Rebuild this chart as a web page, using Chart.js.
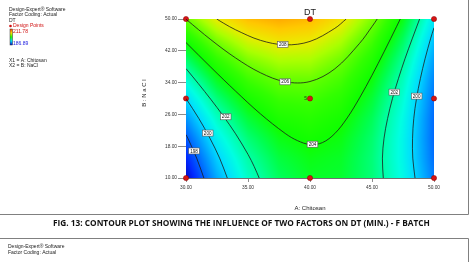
<!DOCTYPE html>
<html lang="en">
<head>
  <meta charset="UTF-8">
  <title>DT contour - F batch</title>
  <script src="https://cdn.jsdelivr.net/npm/chart.js"></script>
  <style>
    body { margin: 0; background: #ffffff; }
    #wrap { width: 471px; height: 262px; }
  </style>
</head>
<body>
  <div id="wrap"><canvas id="dtChart" width="471" height="262"></canvas></div>

  <script>
    // Factor levels (actual units) of the response grid
    var chitosan = [30, 32.5, 35, 37.5, 40, 42.5, 45, 47.5, 50];
    var nacl = [10, 15, 20, 25, 30, 35, 40, 45, 50];

    // DT, one row per NaCl level, one column per Chitosan level
    var dtGrid = [
      [196.19, 199.18, 201.40, 202.84, 203.50, 203.40, 202.51, 200.85, 198.42],
      [196.93, 199.80, 201.89, 203.21, 203.75, 203.52, 202.51, 200.73, 198.17],
      [197.81, 200.56, 202.52, 203.72, 204.14, 203.78, 202.65, 200.74, 198.06],
      [198.83, 201.45, 203.30, 204.37, 204.66, 204.18, 202.92, 200.89, 198.09],
      [199.99, 202.49, 204.21, 205.15, 205.32, 204.72, 203.34, 201.18, 198.26],
      [201.29, 203.66, 205.26, 206.08, 206.12, 205.40, 203.89, 201.61, 198.56],
      [202.73, 204.97, 206.45, 207.14, 207.07, 206.21, 204.59, 202.18, 199.01],
      [204.30, 206.43, 207.77, 208.35, 208.15, 207.17, 205.42, 202.89, 199.59],
      [206.02, 208.02, 209.24, 209.69, 209.36, 208.26, 206.39, 203.74, 200.31]
    ];

    // contour lines, [chitosan, nacl] pairs
    var c198 = [[31.44, 10], [30.86, 15], [30.15, 20], [30, 20.9]];
    var c200a = [[33.33, 10], [32.71, 15], [31.93, 20], [31.03, 25], [30, 30]];
    var c200b = [[48.47, 10], [48.29, 15], [48.27, 20], [48.37, 25], [48.59, 30], [48.90, 35], [49.28, 40], [49.72, 45], [50, 47.8]];
    var c202a = [[30, 37.53], [31, 33.73], [32, 29.78], [33, 25.63], [34, 21.12], [35, 15.94], [35.5, 12.88], [35.9, 10]];
    var c202b = [[45.91, 10], [45.84, 15], [45.97, 20], [46.26, 25], [46.65, 30], [47.13, 35], [47.66, 40], [48.24, 45], [48.84, 50]];
    var c204 = [[30, 44.07], [32, 37.87], [34, 31.85], [36, 26.14], [38, 21.21], [39, 19.39], [40, 18.43], [41, 18.9], [42, 21.18], [43, 25.11], [44, 30.16], [45, 35.84], [46, 41.91], [47, 48.2], [47.28, 50]];
    var c206 = [[30, 49.95], [32, 44.8], [34, 40.2], [36, 36.48], [38, 34.22], [40, 34.27], [42, 37.46], [44, 43.88], [45, 48.09], [45.42, 50]];
    var c208 = [[32.48, 50], [33, 49.0], [34, 47.28], [36, 44.64], [38, 43.5], [40, 44.36], [42, 47.65], [42.92, 50]];

    // contour labels
    var labelText = ['198', '200', '200', '202', '202', '204', '206', '208'];
    var labelA = [30.65, 31.75, 48.6, 33.2, 46.8, 40.2, 38, 37.8];
    var labelB = [16.8, 21.3, 30.6, 25.4, 31.6, 18.5, 34.2, 43.6];

    // design points
    var designA = [30, 30, 30, 40, 40, 40, 50, 50, 50];
    var designB = [10, 30, 50, 10, 30, 50, 10, 30, 50];

    var xTicks = [30, 35, 40, 45, 50];
    var yTicks = [10, 18, 26, 34, 42, 50];

    // colour ramp (DT value -> rgb)
    var rampVal = [196.2, 197, 198, 199, 200, 201, 202, 203, 204, 205, 206, 207, 208, 209, 209.7];
    var rampRGB = [[0, 10, 200], [0, 40, 255], [0, 100, 255], [0, 160, 255], [0, 220, 255], [0, 255, 225],
                   [0, 255, 160], [0, 255, 80], [15, 255, 0], [50, 255, 0], [100, 255, 0], [170, 255, 0],
                   [235, 235, 0], [255, 200, 0], [255, 170, 0]];

    var FONT = '"Liberation Sans", Arial, sans-serif';

    function pairs(arr) {
      return arr.map(function (p) { return { x: p[0], y: p[1] }; });
    }

    function locate(axis, v) {
      var i = 0;
      while (i < axis.length - 2 && v > axis[i + 1]) i++;
      var t = (v - axis[i]) / (axis[i + 1] - axis[i]);
      return [i, Math.max(0, Math.min(1, t))];
    }

    function dtAt(a, b) {
      var ia = locate(chitosan, a), ib = locate(nacl, b);
      var i = ia[0], u = ia[1], j = ib[0], w = ib[1];
      var v00 = dtGrid[j][i], v10 = dtGrid[j][i + 1];
      var v01 = dtGrid[j + 1][i], v11 = dtGrid[j + 1][i + 1];
      return (v00 * (1 - u) + v10 * u) * (1 - w) + (v01 * (1 - u) + v11 * u) * w;
    }

    function colourFor(v) {
      if (v <= rampVal[0]) return rampRGB[0];
      var n = rampVal.length;
      if (v >= rampVal[n - 1]) return rampRGB[n - 1];
      var k = 0;
      while (v > rampVal[k + 1]) k++;
      var t = (v - rampVal[k]) / (rampVal[k + 1] - rampVal[k]);
      var c0 = rampRGB[k], c1 = rampRGB[k + 1];
      return [c0[0] + (c1[0] - c0[0]) * t, c0[1] + (c1[1] - c0[1]) * t, c0[2] + (c1[2] - c0[2]) * t];
    }

    // colour field behind the contour lines
    var fieldPlugin = {
      id: 'field',
      beforeDatasetsDraw: function (chart) {
        var area = chart.chartArea, xs = chart.scales.x, ys = chart.scales.y;
        var w = Math.round(area.right - area.left), h = Math.round(area.bottom - area.top);
        var off = document.createElement('canvas');
        off.width = w; off.height = h;
        var octx = off.getContext('2d');
        var img = octx.createImageData(w, h);
        for (var py = 0; py < h; py++) {
          var b = ys.getValueForPixel(area.top + py + 0.5);
          for (var px = 0; px < w; px++) {
            var a = xs.getValueForPixel(area.left + px + 0.5);
            var c = colourFor(dtAt(a, b));
            var k = (py * w + px) * 4;
            img.data[k] = c[0]; img.data[k + 1] = c[1]; img.data[k + 2] = c[2]; img.data[k + 3] = 255;
          }
        }
        octx.putImageData(img, 0, 0);
        chart.ctx.drawImage(off, area.left, area.top);
      },
      afterDatasetsDraw: function (chart) {
        var ctx = chart.ctx, xs = chart.scales.x, ys = chart.scales.y;
        ctx.save();
        ctx.font = '4.6px ' + FONT;
        ctx.textAlign = 'center';
        ctx.textBaseline = 'middle';
        for (var i = 0; i < labelText.length; i++) {
          var px = xs.getPixelForValue(labelA[i]), py = ys.getPixelForValue(labelB[i]);
          var tw = ctx.measureText(labelText[i]).width + 3;
          ctx.fillStyle = '#ffffff';
          ctx.fillRect(px - tw / 2, py - 3, tw, 6);
          ctx.strokeStyle = '#555555';
          ctx.lineWidth = 0.6;
          ctx.strokeRect(px - tw / 2, py - 3, tw, 6);
          ctx.fillStyle = '#111111';
          ctx.fillText(labelText[i], px, py + 0.3);
        }
        // replicate count at centre point
        ctx.font = '5px ' + FONT;
        ctx.textAlign = 'right';
        ctx.fillStyle = '#1a3a1a';
        ctx.fillText('5', xs.getPixelForValue(40) - 3, ys.getPixelForValue(30));
        ctx.restore();
      }
    };

    // page text, titles, frame and caption
    var textPlugin = {
      id: 'pageText',
      afterDraw: function (chart) {
        var ctx = chart.ctx, area = chart.chartArea;
        ctx.save();
        ctx.textBaseline = 'middle';
        ctx.textAlign = 'left';

        // info block
        ctx.font = '5px ' + FONT;
        ctx.fillStyle = '#222222';
        ctx.fillText('Design-Expert\u00ae Software', 9, 10);
        ctx.fillText('Factor Coding: Actual', 9, 15);
        ctx.fillText('DT', 9, 20.5);
        ctx.fillStyle = '#d01010';
        ctx.beginPath(); ctx.arc(10.5, 26, 1.3, 0, Math.PI * 2); ctx.fill();
        ctx.fillText('Design Points', 13, 26);
        ctx.fillText('211.78', 13, 32);
        ctx.fillStyle = '#2020e0';
        ctx.fillText('186.89', 13, 43.5);
        var g = ctx.createLinearGradient(0, 29, 0, 45);
        g.addColorStop(0, '#ff4000'); g.addColorStop(0.25, '#ffe000'); g.addColorStop(0.5, '#20ff00');
        g.addColorStop(0.75, '#00e0ff'); g.addColorStop(1, '#0010d0');
        ctx.fillStyle = g;
        ctx.fillRect(10, 29, 2.5, 16);
        ctx.strokeStyle = '#333333'; ctx.lineWidth = 0.5;
        ctx.strokeRect(10, 29, 2.5, 16);
        ctx.fillStyle = '#222222';
        ctx.fillText('X1 = A: Chitosan', 9, 61);
        ctx.fillText('X2 = B: NaCl', 9, 66);

        // chart title
        ctx.textAlign = 'center';
        ctx.font = '9px ' + FONT;
        ctx.fillStyle = '#222222';
        ctx.fillText('DT', (area.left + area.right) / 2, 13);

        // axis titles
        ctx.font = '6px ' + FONT;
        ctx.fillText('A: Chitosan', (area.left + area.right) / 2, 208);
        ctx.save();
        ctx.translate(144, 93);
        ctx.rotate(-Math.PI / 2);
        ctx.fillText('B : N a C l', 0, 0);
        ctx.restore();

        // figure frame
        ctx.strokeStyle = '#808080'; ctx.lineWidth = 1;
        ctx.beginPath();
        ctx.moveTo(0, 214.5); ctx.lineTo(468.5, 214.5); ctx.lineTo(468.5, 0);
        ctx.moveTo(0, 238.5); ctx.lineTo(468.5, 238.5); ctx.lineTo(468.5, 262);
        ctx.stroke();

        // caption
        var cap = 'FIG. 13: CONTOUR PLOT SHOWING THE INFLUENCE OF TWO FACTORS ON DT (MIN.) - F BATCH';
        var size = 8;
        ctx.font = 'bold ' + size + 'px "Open Sans", sans-serif';
        size = size * 377 / ctx.measureText(cap).width;
        ctx.font = 'bold ' + size.toFixed(2) + 'px "Open Sans", sans-serif';
        ctx.fillStyle = '#111111';
        ctx.fillText(cap, 241.5, 224);

        // start of next figure
        ctx.textAlign = 'left';
        ctx.font = '5px ' + FONT;
        ctx.fillStyle = '#222222';
        ctx.fillText('Design-Expert\u00ae Software', 8, 247);
        ctx.fillText('Factor Coding: Actual', 8, 252.5);
        ctx.restore();
      }
    };

    function contourSet(arr) {
      return {
        data: pairs(arr),
        showLine: true,
        pointRadius: 0,
        borderColor: '#1c1c1c',
        borderWidth: 0.8,
        tension: 0.35,
        fill: false
      };
    }

    var datasets = [c198, c200a, c200b, c202a, c202b, c204, c206, c208].map(contourSet);
    datasets.push({
      data: designA.map(function (a, i) { return { x: a, y: designB[i] }; }),
      pointRadius: 2.6,
      pointBackgroundColor: '#d41515',
      pointBorderColor: '#8a0000',
      pointBorderWidth: 0.5,
      showLine: false,
      clip: false
    });

    var tickFont = { family: FONT, size: 4.8 };

    var ctx = document.getElementById('dtChart').getContext('2d');
    var dtChart = new Chart(ctx, {
      type: 'scatter',
      data: { datasets: datasets },
      options: {
        responsive: false,
        animation: false,
        events: [],
        layout: { padding: { left: 0, right: 37, top: 19, bottom: 0 } },
        plugins: { legend: { display: false }, tooltip: { enabled: false } },
        scales: {
          x: {
            type: 'linear', min: 30, max: 50,
            afterBuildTicks: function (s) { s.ticks = xTicks.map(function (v) { return { value: v }; }); },
            afterFit: function (s) { s.height = 84; },
            ticks: { font: tickFont, color: '#333333', padding: 3, maxRotation: 0,
                     callback: function (v) { return Number(v).toFixed(2); } },
            grid: { drawOnChartArea: false, tickLength: 4, color: '#707070', tickWidth: 0.8 },
            border: { color: '#707070', width: 1 }
          },
          y: {
            type: 'linear', min: 10, max: 50,
            afterBuildTicks: function (s) { s.ticks = yTicks.map(function (v) { return { value: v }; }); },
            afterFit: function (s) { s.width = 186; },
            ticks: { font: tickFont, color: '#333333', padding: 1,
                     callback: function (v) { return Number(v).toFixed(2); } },
            grid: { drawOnChartArea: false, tickLength: 8, color: '#707070', tickWidth: 0.8 },
            border: { color: '#707070', width: 1 }
          }
        }
      },
      plugins: [fieldPlugin, textPlugin]
    });
  </script>
</body>
</html>
